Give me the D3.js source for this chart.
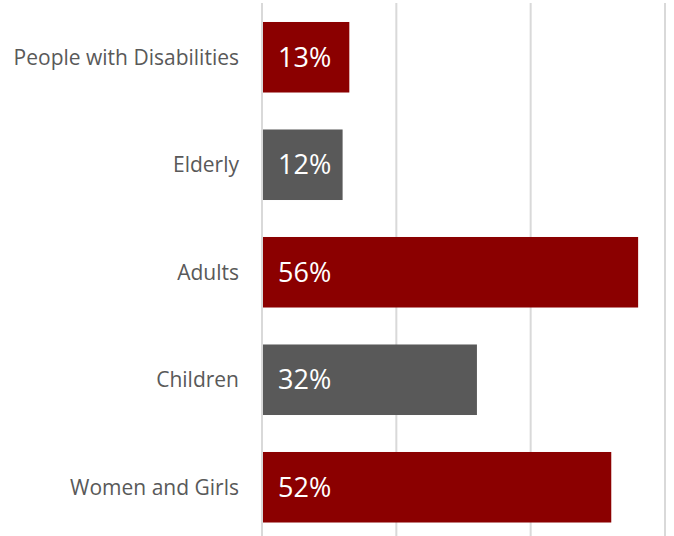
<!DOCTYPE html>
<html>
<head>
<meta charset="utf-8">
<script src="https://cdn.jsdelivr.net/npm/d3@7"></script>
<style>
  body { margin: 0; background: #fff; }
  svg { display: block; font-family: "Open Sans", "Noto Sans", sans-serif; }
</style>
</head>
<body>
<svg id="chart" width="674" height="536"></svg>
<script>
const categories = ["People with Disabilities", "Elderly", "Adults", "Children", "Women and Girls"];
const values = [13, 12, 56, 32, 52];
const barColors = ["#8b0000", "#595959", "#8b0000", "#595959", "#8b0000"];
const gridTicks = [0, 20, 40, 60];

const svg = d3.select("#chart"),
    width = +svg.attr("width"),
    height = +svg.attr("height");

const x = d3.scaleLinear()
    .domain([0, 60])
    .range([262, 665]);

const y = d3.scaleBand()
    .domain(categories)
    .range([3.5, 541])
    .paddingInner(0.344)
    .paddingOuter(0.172);

// gridlines
svg.append("g")
    .selectAll("line")
    .data(gridTicks)
    .enter().append("line")
    .attr("x1", d => x(d))
    .attr("x2", d => x(d))
    .attr("y1", 3)
    .attr("y2", height)
    .attr("stroke", "#d9d9d9")
    .attr("stroke-width", 2);

svg.append("g")
    .selectAll("rect")
    .data(values)
    .enter().append("rect")
    .attr("x", x(0) + 1)
    .attr("y", (d, i) => y(categories[i]))
    .attr("width", d => x(d) - x(0) - 1)
    .attr("height", y.bandwidth())
    .attr("fill", (d, i) => barColors[i]);

svg.append("g")
    .selectAll("text")
    .data(values)
    .enter().append("text")
    .attr("x", x(0) + 16)
    .attr("y", (d, i) => y(categories[i]) + y.bandwidth() / 2)
    .attr("dy", "0.36em")
    .attr("fill", "#fff")
    .attr("font-size", 27)
    .text(d => d + "%");

// category labels
svg.append("g")
    .selectAll("text")
    .data(categories)
    .enter().append("text")
    .attr("x", 239)
    .attr("y", d => y(d) + y.bandwidth() / 2)
    .attr("dy", "0.35em")
    .attr("text-anchor", "end")
    .attr("fill", "#595959")
    .attr("font-size", 21)
    .text(d => d);
</script>
</body>
</html>
